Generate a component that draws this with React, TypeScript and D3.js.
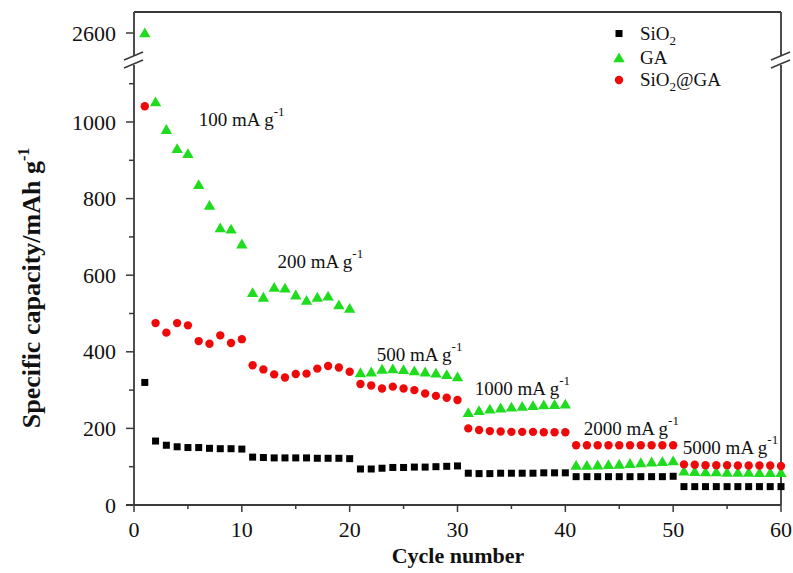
import React from 'react';
import * as d3 from 'd3';

// cycle capacities (mAh/g)
const cycles = d3.range(1, 61);
const sio2 = [320, 167, 156, 152, 150, 150, 148, 147, 147, 146,
  125, 124, 123, 123, 123, 123, 122, 122, 122, 121,
  94, 94, 96, 98, 98, 99, 99, 100, 101, 102,
  83, 82, 82, 83, 83, 83, 83, 84, 84, 84,
  74, 74, 74, 74, 74, 74, 74, 74, 74, 75,
  48, 48, 48, 48, 48, 48, 48, 48, 48, 48];
const ga = [2600, 1052, 980, 930, 917, 836, 782, 723, 720, 681,
  554, 542, 568, 566, 548, 534, 542, 545, 522, 513,
  345, 347, 354, 355, 353, 350, 347, 344, 340, 334,
  241, 246, 250, 253, 255, 257, 259, 261, 262, 263,
  103, 103, 104, 105, 106, 108, 110, 112, 113, 115,
  88, 87, 86, 86, 85, 85, 85, 84, 84, 84];
const sio2ga = [1041, 475, 450, 475, 469, 428, 421, 443, 423, 433,
  365, 354, 341, 333, 342, 343, 356, 363, 359, 348,
  316, 312, 304, 309, 304, 300, 291, 285, 280, 274,
  200, 196, 193, 192, 191, 191, 191, 190, 190, 190,
  156, 156, 156, 156, 156, 156, 156, 156, 156, 156,
  106, 105, 104, 104, 104, 103, 103, 103, 103, 102];

const xTicks = [0, 10, 20, 30, 40, 50, 60];
const yTicks = [0, 200, 400, 600, 800, 1000];
const yUpperTicks = [2600];
const rateLabels = ['100', '200', '500', '1000', '2000', '5000'];
// where each current-density label sits: [cycle, capacity]
const rateAnchor = [[6, 990], [13.3, 619], [22.5, 376], [31.6, 287], [41.7, 183], [50.9, 133]];

const W = 793, H = 573;
const left = 134, right = 781, bottom = 505, top = 12;
const breakY = 61;

const x = d3.scaleLinear().domain([0, 60]).range([left, right]);
const yLow = d3.scaleLinear().domain([0, 1000]).range([bottom, 122]);
const yHigh = d3.scaleLinear().domain([2600, 2700]).range([33, top]);
const yv = (v: number) => (v > 2000 ? yHigh(v) : yLow(v));

const GREEN = '#1fdc1f';
const RED = '#ee0a0a';
const AXIS = '#3a3a3a';
const font = '"Liberation Serif", "Times New Roman", serif';

const tri = d3.symbol().type(d3.symbolTriangle).size(56)();

const BreakMark = ({ cx }: { cx: number }) => (
  <g>
    <rect x={cx - 10} y={breakY - 5} width={20} height={9} fill="white" />
    <line x1={cx - 10} y1={breakY - 1} x2={cx + 9} y2={breakY - 9} stroke={AXIS} strokeWidth={1.6} />
    <line x1={cx - 10} y1={breakY + 7} x2={cx + 9} y2={breakY - 1} stroke={AXIS} strokeWidth={1.6} />
  </g>
);

export default function App() {
  const minorY = d3.range(100, 1200, 200);
  const minorX = d3.range(5, 60, 10);
  return (
    <svg width={W} height={H} style={{ position: 'absolute', left: 0, top: 0, background: 'white' }} fontFamily={font}>
      {/* frame */}
      <g stroke={AXIS} strokeWidth={1.8} fill="none">
        <line x1={left} y1={bottom} x2={left} y2={top} />
        <line x1={right} y1={bottom} x2={right} y2={top} />
        <line x1={left} y1={top} x2={right} y2={top} />
        <line x1={left - 8} y1={bottom} x2={right} y2={bottom} />
      </g>
      <BreakMark cx={left} />
      <BreakMark cx={right} />

      {/* ticks */}
      <g stroke={AXIS} strokeWidth={1.5}>
        {yTicks.map((t) => <line key={'y' + t} x1={left - 8} x2={left} y1={yLow(t)} y2={yLow(t)} />)}
        {minorY.map((t) => <line key={'ym' + t} x1={left - 5} x2={left} y1={yLow(t)} y2={yLow(t)} />)}
        {yUpperTicks.map((t) => <line key={'yu' + t} x1={left - 8} x2={left} y1={yHigh(t)} y2={yHigh(t)} />)}
        {xTicks.map((t) => <line key={'x' + t} x1={x(t)} x2={x(t)} y1={bottom} y2={bottom + 7} />)}
        {minorX.map((t) => <line key={'xm' + t} x1={x(t)} x2={x(t)} y1={bottom} y2={bottom + 4} />)}
      </g>
      <g fontSize={22} fill="#111" textAnchor="end">
        {yTicks.map((t) => <text key={t} x={left - 18} y={yLow(t) + 7.5}>{t}</text>)}
        {yUpperTicks.map((t) => <text key={t} x={left - 18} y={yHigh(t) + 7.5}>{t}</text>)}
      </g>
      <g fontSize={22} fill="#111" textAnchor="middle">
        {xTicks.map((t) => <text key={t} x={x(t)} y={537}>{t}</text>)}
      </g>

      <text x={458} y={563} textAnchor="middle" fontSize={22} fontWeight="bold" fill="#111">Cycle number</text>
      <text transform="translate(40,288) rotate(-90)" textAnchor="middle" fontSize={26} fontWeight="bold" fill="#111">
        Specific capacity/mAh g<tspan dy={-11} fontSize={16}>-1</tspan>
      </text>

      {/* data */}
      <g>
        {sio2.map((v, i) => (
          <rect key={i} x={x(cycles[i]) - 3.5} y={yv(v) - 3.5} width={7} height={7} fill="#000" />
        ))}
        {ga.map((v, i) => (
          <path key={i} d={tri as string} transform={`translate(${x(cycles[i])},${yv(v) + 1})`} fill={GREEN} />
        ))}
        {sio2ga.map((v, i) => (
          <circle key={i} cx={x(cycles[i])} cy={yv(v)} r={4.2} fill={RED} />
        ))}
      </g>

      {/* current density labels */}
      <g fontSize={19} fill="#111">
        {rateLabels.map((r, i) => (
          <text key={r} x={x(rateAnchor[i][0])} y={yLow(rateAnchor[i][1])}>
            {r} mA g<tspan dy={-10} fontSize={13}>-1</tspan>
          </text>
        ))}
      </g>

      {/* legend */}
      <g fontSize={19} fill="#111">
        <rect x={615.5} y={30} width={7} height={7} fill="#000" />
        <text x={640} y={40}>SiO<tspan dy={5} fontSize={13}>2</tspan></text>
        <path d={tri as string} transform="translate(619,59)" fill={GREEN} />
        <text x={640} y={64}>GA</text>
        <circle cx={619} cy={80} r={4.2} fill={RED} />
        <text x={640} y={86}>SiO<tspan dy={5} fontSize={13}>2</tspan><tspan dy={-5}>@GA</tspan></text>
      </g>
    </svg>
  );
}
